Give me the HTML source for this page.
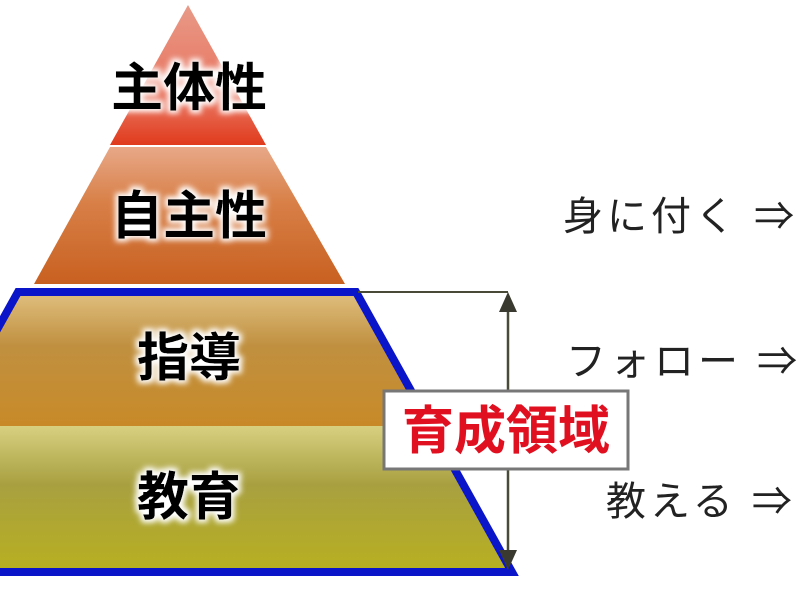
<!DOCTYPE html>
<html><head><meta charset="utf-8"><style>
html,body{margin:0;padding:0;background:#fff;width:800px;height:600px;overflow:hidden}
svg{display:block}
</style></head><body>
<svg width="800" height="600" viewBox="0 0 800 600" xmlns="http://www.w3.org/2000/svg">
<defs>
<linearGradient id="r" x1="0" y1="0" x2="0" y2="1"><stop offset="0" stop-color="#e89a88"/><stop offset="0.7" stop-color="#e8705a"/><stop offset="1" stop-color="#e03a1c"/></linearGradient>
<linearGradient id="o" x1="0" y1="0" x2="0" y2="1"><stop offset="0" stop-color="#e8a888"/><stop offset="0.4" stop-color="#d88048"/><stop offset="1" stop-color="#c86020"/></linearGradient>
<linearGradient id="t" x1="0" y1="0" x2="0" y2="1"><stop offset="0" stop-color="#e0c080"/><stop offset="0.4" stop-color="#c09040"/><stop offset="1" stop-color="#c88a28"/></linearGradient>
<linearGradient id="g" x1="0" y1="0" x2="0" y2="1"><stop offset="0" stop-color="#d8d080"/><stop offset="0.4" stop-color="#a8a040"/><stop offset="1" stop-color="#b8b020"/></linearGradient>
<filter id="glow" x="-20%" y="-20%" width="140%" height="140%"><feMorphology in="SourceAlpha" operator="dilate" radius="3" result="d"/><feGaussianBlur in="d" stdDeviation="3" result="b"/><feFlood flood-color="#fff"/><feComposite in2="b" operator="in" result="w"/><feMerge><feMergeNode in="w"/><feMergeNode in="SourceGraphic"/></feMerge></filter>
</defs>
<polygon points="188,5 110,145 266,145" fill="url(#r)"/>
<polygon points="110,147 266,147 345,284 34,284" fill="url(#o)"/>
<polygon points="18,292 356,292 431,426 -57,426" fill="url(#t)"/>
<polygon points="-57,426 431,426 512,572 -138,572" fill="url(#g)"/>
<polygon points="18,292 356,292 512,572 -138,572" fill="none" stroke="#0a14c8" stroke-width="8" stroke-linejoin="miter"/>
<line x1="358" y1="292" x2="508" y2="292" stroke="#4a4a38" stroke-width="2"/>
<line x1="508" y1="300" x2="508" y2="565" stroke="#4a4a38" stroke-width="2.5"/>
<polygon points="508,292 499,312 517,312" fill="#3a3a30"/>
<polygon points="508,570 499,550 517,550" fill="#3a3a30"/>
<rect x="384" y="391" width="244" height="78" fill="#fff" stroke="#777" stroke-width="3"/>
<text x="506" y="449" text-anchor="middle" font-family="'Liberation Sans','Noto Sans CJK JP',sans-serif" font-weight="bold" font-size="52" fill="#e01020">育成領域</text>
<g font-family="'Liberation Sans','Noto Sans CJK JP',sans-serif" font-weight="bold" font-size="52" fill="#000" text-anchor="middle" filter="url(#glow)">
<text x="189" y="106">主体性</text>
<text x="189" y="234">自主性</text>
<text x="189" y="376">指導</text>
<text x="189" y="515">教育</text>
</g>
<g font-family="'Liberation Sans','Noto Sans CJK JP',sans-serif" font-size="40" fill="#222" letter-spacing="4">
<text x="563" y="230">身に付く ⇒</text>
<text x="566" y="375">フォロー ⇒</text>
<text x="606" y="515">教える ⇒</text>
</g>
</svg>
</body></html>
